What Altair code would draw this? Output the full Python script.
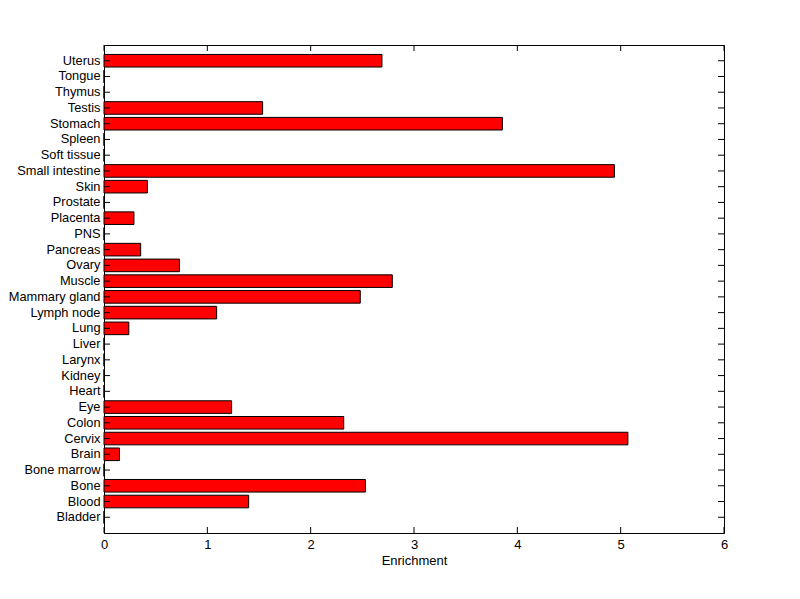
import altair as alt
import pandas as pd

categories = ["Bladder", "Blood", "Bone", "Bone marrow", "Brain", "Cervix", "Colon", "Eye",
              "Heart", "Kidney", "Larynx", "Liver", "Lung", "Lymph node", "Mammary gland",
              "Muscle", "Ovary", "Pancreas", "PNS", "Placenta", "Prostate", "Skin",
              "Small intestine", "Soft tissue", "Spleen", "Stomach", "Testis", "Thymus",
              "Tongue", "Uterus"]
values = [0, 1.40, 2.53, 0, 0.15, 5.07, 2.32, 1.235,
          0, 0, 0, 0, 0.24, 1.09, 2.48,
          2.79, 0.73, 0.355, 0, 0.29, 0, 0.42,
          4.94, 0, 0, 3.855, 1.535, 0,
          0, 2.69]
x_ticks = [0, 1, 2, 3, 4, 5, 6]

W, H = 620, 488
FONT = "Liberation Sans"

df = pd.DataFrame({"cat": categories, "val": values})
tick_df = pd.DataFrame({"t": x_ticks})
order = list(reversed(categories))

yscale = alt.Scale(domain=order, paddingInner=0.2, paddingOuter=0.6)
xscale = alt.Scale(domain=[0, 6], nice=False, zero=True)

bars = alt.Chart(df).mark_bar(color="#ff0000", stroke="black", strokeWidth=1).encode(
    x=alt.X("val:Q", scale=xscale, title="Enrichment",
            axis=alt.Axis(values=x_ticks, format="d", tickSize=0, labelPadding=5,
                          labelFont=FONT, labelFontSize=13, labelColor="black",
                          titleFont=FONT, titleFontSize=13, titleFontWeight="normal",
                          titleColor="black", titlePadding=3, grid=False,
                          domainColor="black", labelFlush=False)),
    y=alt.Y("cat:N", scale=yscale, sort=order, title=None,
            axis=alt.Axis(tickSize=0, labelPadding=4, labelFont=FONT, labelFontSize=12.8,
                          labelColor="black", domainColor="black", grid=False)),
)

ytick_left = alt.Chart(df).mark_rule(color="black", strokeWidth=1).encode(
    y=alt.Y("cat:N", scale=yscale, sort=order),
    x=alt.value(0), x2=alt.value(6),
)
ytick_right = alt.Chart(df).mark_rule(color="black", strokeWidth=1).encode(
    y=alt.Y("cat:N", scale=yscale, sort=order),
    x=alt.value(W - 6), x2=alt.value(W),
)
xtick_bottom = alt.Chart(tick_df).mark_rule(color="black", strokeWidth=1).encode(
    x=alt.X("t:Q", scale=xscale),
    y=alt.value(H - 6), y2=alt.value(H),
)
xtick_top = alt.Chart(tick_df).mark_rule(color="black", strokeWidth=1).encode(
    x=alt.X("t:Q", scale=xscale),
    y=alt.value(0), y2=alt.value(6),
)

chart = alt.layer(bars, ytick_left, ytick_right, xtick_bottom, xtick_top).properties(
    width=W, height=H,
    autosize=alt.AutoSizeParams(type="none"),
    padding={"left": 96, "top": 37, "right": 60, "bottom": 50},
    background="white",
).configure_view(stroke="black", strokeWidth=1)

chart.save("out.html", embed_options={"renderer": "svg", "actions": False})
